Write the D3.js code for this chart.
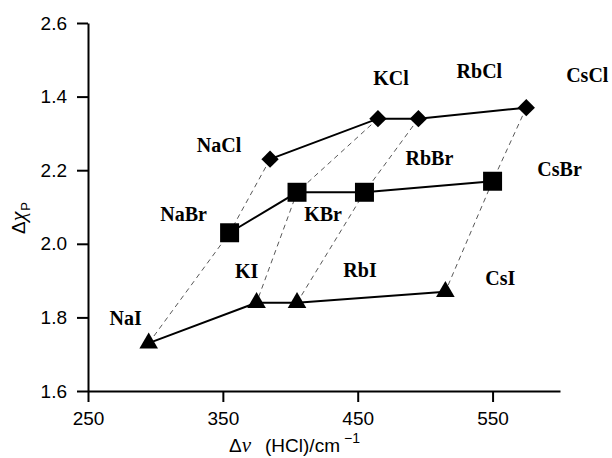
<!DOCTYPE html>
<html>
<head>
<meta charset="utf-8">
<script src="https://cdn.jsdelivr.net/npm/d3@7"></script>
<style>
    body { margin: 0; background: #fff; }
    .axis text { font-family: "Liberation Sans", Arial, sans-serif; font-size: 19px; fill: #000; }
    .axis path, .axis line { stroke: #000; stroke-width: 2px; }
    .label { font-family: "Liberation Serif", "Times New Roman", serif; font-weight: bold; font-size: 20px; }
    .title { font-family: "Liberation Sans", Arial, sans-serif; font-size: 19px; }
</style>
</head>
<body>
<div id="chart"></div>
<script>
var cations = ["Na", "K", "Rb", "Cs"];
var clShift = [385, 465, 495, 575];
var clChi = [2.23, 2.34, 2.34, 2.37];
var brShift = [355, 405, 455, 550];
var brChi = [2.03, 2.14, 2.14, 2.17];
var iShift = [295, 375, 405, 515];
var iChi = [1.73, 1.84, 1.84, 1.87];

var xTicks = [250, 350, 450, 550];
var yTicks = [1.6, 1.8, 2.0, 2.2, 2.4, 2.6];
var yTickLabels = ["1.6", "1.8", "2.0", "2.2", "1.4", "2.6"];

// label offsets from the marker (text centre x, baseline y)
var labelOffset = {
    NaCl: [-51, -7], KCl: [13, -34], RbCl: [61, -41], CsCl: [61, -26],
    NaBr: [-46, -12], KBr: [26, 29], RbBr: [65, -27], CsBr: [67, -5],
    NaI: [-23, -18], KI: [-10, -25], RbI: [63, -26], CsI: [55, -7]
};

var margin = { top: 23, right: 52, bottom: 67, left: 88 },
    width = 612 - margin.left - margin.right,
    height = 458 - margin.top - margin.bottom;

var svg = d3.select("#chart").append("svg")
    .attr("width", 612)
    .attr("height", 458)
    .append("g")
        .attr("transform", "translate(" + margin.left + "," + margin.top + ")");

var x = d3.scaleLinear().domain([250, 600]).range([0, width]);
var y = d3.scaleLinear().domain([1.6, 2.6]).range([height, 0]);

var series = [
    { halide: "Cl", xs: clShift, ys: clChi, symbol: "diamond" },
    { halide: "Br", xs: brShift, ys: brChi, symbol: "square" },
    { halide: "I", xs: iShift, ys: iChi, symbol: "triangle" }
];
series.forEach(function (s) {
    s.points = cations.map(function (c, i) {
        return { name: c + s.halide, x: s.xs[i], y: s.ys[i] };
    });
});

var line = d3.line().x(d => x(d.x)).y(d => y(d.y));

// dashed links: same cation across halides
cations.forEach(function (c, i) {
    svg.append("path")
        .attr("d", line(series.map(s => s.points[i])))
        .attr("fill", "none")
        .attr("stroke", "#444")
        .attr("stroke-width", 0.9)
        .attr("stroke-dasharray", "5,4");
});

series.forEach(function (s) {
    svg.append("path")
        .attr("d", line(s.points))
        .attr("fill", "none")
        .attr("stroke", "#000")
        .attr("stroke-width", 2);
});

var symbols = {
    diamond: d3.symbol().type(d3.symbolSquare).size(150),
    square: d3.symbol().type(d3.symbolSquare).size(361),
    triangle: d3.symbol().type(d3.symbolTriangle).size(150)
};

series.forEach(function (s) {
    svg.selectAll(".m" + s.halide).data(s.points).enter().append("path")
        .attr("class", "m" + s.halide)
        .attr("d", symbols[s.symbol])
        .attr("transform", d => "translate(" + x(d.x) + "," + y(d.y) + ")" + (s.symbol == "diamond" ? " rotate(45)" : ""))
        .attr("fill", "#000");

    svg.selectAll(".l" + s.halide).data(s.points).enter().append("text")
        .attr("class", "label l" + s.halide)
        .attr("x", d => x(d.x) + labelOffset[d.name][0])
        .attr("y", d => y(d.y) + labelOffset[d.name][1])
        .attr("text-anchor", "middle")
        .text(d => d.name);
});

svg.append("g").attr("class", "axis")
    .attr("transform", "translate(0," + height + ")")
    .call(d3.axisBottom(x).tickValues(xTicks).tickFormat(d3.format("d"))
        .tickSize(11).tickSizeOuter(0).tickPadding(10));

svg.append("g").attr("class", "axis")
    .call(d3.axisLeft(y).tickValues(yTicks).tickFormat((d, i) => yTickLabels[i])
        .tickSize(11).tickSizeOuter(0).tickPadding(10));

// axis titles
var xt = svg.append("text").attr("class", "title")
    .attr("x", 141).attr("y", height + 61);
xt.append("tspan").text("Δ");
xt.append("tspan").style("font-family", "'Liberation Serif', serif").style("font-style", "italic").style("font-size", "21px").text("ν");
xt.append("tspan").attr("dx", 14).text("(HCl)/cm");
xt.append("tspan").attr("dx", 4).attr("dy", -9).style("font-size", "14px").text("−1");

var yt = svg.append("text").attr("class", "title")
    .attr("transform", "translate(" + (25 - margin.left) + "," + (218 - margin.top) + ") rotate(-90)")
    .attr("text-anchor", "middle");
yt.append("tspan").text("Δ");
yt.append("tspan").style("font-family", "'Liberation Serif', serif").style("font-style", "italic").style("font-size", "22px").text("χ");
yt.append("tspan").attr("dy", 5).attr("dx", 1).style("font-size", "13px").text("P");
</script>
</body>
</html>
